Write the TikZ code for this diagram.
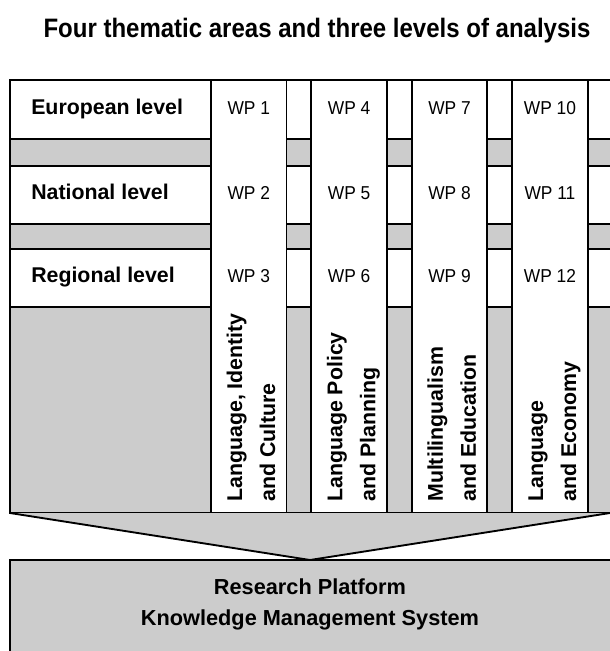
\documentclass[tikz,border=0pt]{standalone}
\usepackage{fontspec}
\setmainfont{Liberation Sans}
\newfontfamily\titlefont{Liberation Sans}[FakeStretch=0.9]
\newfontfamily\wpfont{Liberation Sans}[FakeStretch=0.93]
\definecolor{panelgray}{RGB}{204,204,204}
\begin{document}
\begin{tikzpicture}[x=0.75pt,y=-0.75pt,
  frame/.style={draw=black,line width=1.4pt},
  whitebox/.style={frame,fill=white},
  graybox/.style={frame,fill=panelgray},
  levellabel/.style={font=\fontsize{16}{19}\selectfont\bfseries,anchor=base west,inner sep=0pt},
  wplabel/.style={font=\wpfont\fontsize{14}{16}\selectfont,anchor=base,inner sep=0pt},
  themelabel/.style={font=\fontsize{16}{19}\selectfont\bfseries,rotate=90,anchor=base west,inner sep=0pt},
  platformlabel/.style={font=\fontsize{16.3}{19}\selectfont\bfseries,anchor=base,inner sep=0pt},
  titlelabel/.style={font=\titlefont\bfseries\fontsize{20}{24}\selectfont,anchor=base,inner sep=0pt}
  ]
\useasboundingbox (0,0) rectangle (610,651);
\clip (0,0) rectangle (610,651);

% title
\node[titlelabel] (title) at (317,37) {Four thematic areas and three levels of analysis};

% grey block
\draw[graybox] (10,80) rectangle (640,513);

% level rows
\draw[whitebox] (10,80) rectangle (640,139);
\draw[whitebox] (10,166) rectangle (640,224);
\draw[whitebox] (10,249) rectangle (640,307);

\node[levellabel] (lvE) at (31,114) {European level};
\node[levellabel] (lvN) at (31,199) {National level};
\node[levellabel] (lvR) at (31,282) {Regional level};

% thematic columns
\foreach \i/\la/\lb in {0/{Language, Identity}/{and Culture},
                        1/{Language Policy}/{and Planning},
                        2/{Multilingualism}/{and Education},
                        3/{Language}/{and Economy}} {
  \pgfmathsetmacro{\cl}{211+100.4*\i}
  \pgfmathsetmacro{\cc}{\cl+37.75}
  \draw[whitebox] (\cl,80) rectangle ({\cl+75.5},513);
  \pgfmathtruncatemacro{\na}{3*\i+1}
  \pgfmathtruncatemacro{\nb}{3*\i+2}
  \pgfmathtruncatemacro{\nc}{3*\i+3}
  \node[wplabel] (wp\na) at (\cc,114) {WP \na};
  \node[wplabel] (wp\nb) at (\cc,199) {WP \nb};
  \node[wplabel] (wp\nc) at (\cc,282) {WP \nc};
  \node[themelabel] (th\i a) at ({\cl+31},502) {\la};
  \node[themelabel] (th\i b) at ({\cl+64},502) {\lb};
}

% funnel
\filldraw[graybox] (10,513) -- (310,560) -- (610,513);

% research platform
\draw[graybox] (10,560) rectangle (640,680);
\node[platformlabel] (rp1) at (310,594) {Research Platform};
\node[platformlabel] (rp2) at (310,625) {Knowledge Management System};
\end{tikzpicture}
\end{document}
